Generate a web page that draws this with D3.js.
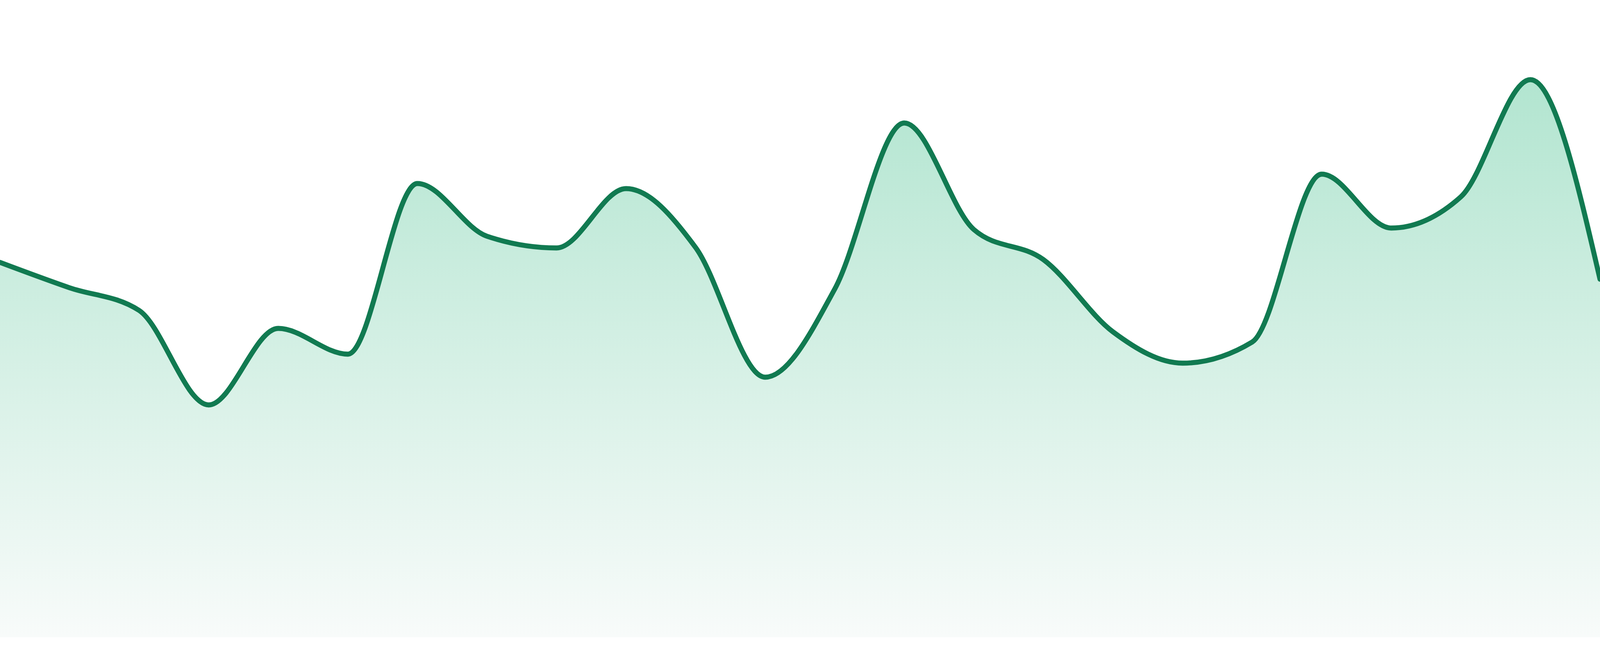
<!DOCTYPE html>
<html>
<head>
<meta charset="utf-8">
<script src="https://cdn.jsdelivr.net/npm/d3@7"></script>
<style>
    html, body { margin: 0; padding: 0; background: #ffffff; overflow: hidden; }
    svg { display: block; }
</style>
</head>
<body>
<div id="chart"></div>
<script>
// 24 evenly spaced samples
const steps = d3.range(24);
const values = [
    96.0, 89.5, 83.7, 59.5, 79.1, 72.5, 116.2, 102.7,
    99.7, 114.9, 99.8, 66.6, 89.2, 131.7, 104.4, 96.7,
    78.2, 70.2, 75.6, 118.6, 104.8, 112.8, 142.8, 91.7
];

// fill the window, keep the reference proportions (4800 x 1680 frame)
const width = window.innerWidth || 4800;
const height = window.innerHeight || 1680;
const unit = width / 4800;
const baselineY = height * (1632 / 1680);
const peakY = height * (204 / 1680);

const lineColor = "#117a51";
const fillTop = "#b2e5d0";
const fillBottom = "#f8fbfa";

const data = steps.map((s, i) => ({ step: s, value: values[i] }));

const xScale = d3
    .scaleLinear()
    .domain(d3.extent(steps))
    .range([0, width]);

const yScale = d3
    .scaleLinear()
    .domain([0, d3.max(values)])
    .range([baselineY, peakY]);

const svg = d3
    .select("#chart")
    .append("svg")
    .attr("width", width)
    .attr("height", height);

const grad = svg
    .append("defs")
    .append("linearGradient")
    .attr("id", "area-fill")
    .attr("gradientUnits", "userSpaceOnUse")
    .attr("x1", 0)
    .attr("x2", 0)
    .attr("y1", yScale(d3.max(values)))
    .attr("y2", yScale(0));

grad.append("stop").attr("offset", "0%").attr("stop-color", fillTop);
grad.append("stop").attr("offset", "100%").attr("stop-color", fillBottom);

const area = d3
    .area()
    .x(d => xScale(d.step))
    .y0(yScale(0))
    .y1(d => yScale(d.value))
    .curve(d3.curveMonotoneX);

const line = d3
    .line()
    .x(d => xScale(d.step))
    .y(d => yScale(d.value))
    .curve(d3.curveMonotoneX);

svg.append("path")
    .datum(data)
    .attr("fill", "url(#area-fill)")
    .attr("d", area);

svg.append("path")
    .datum(data)
    .attr("fill", "none")
    .attr("stroke", lineColor)
    .attr("stroke-width", 15 * unit)
    .attr("stroke-linecap", "round")
    .attr("stroke-linejoin", "round")
    .attr("d", line);
</script>
</body>
</html>
